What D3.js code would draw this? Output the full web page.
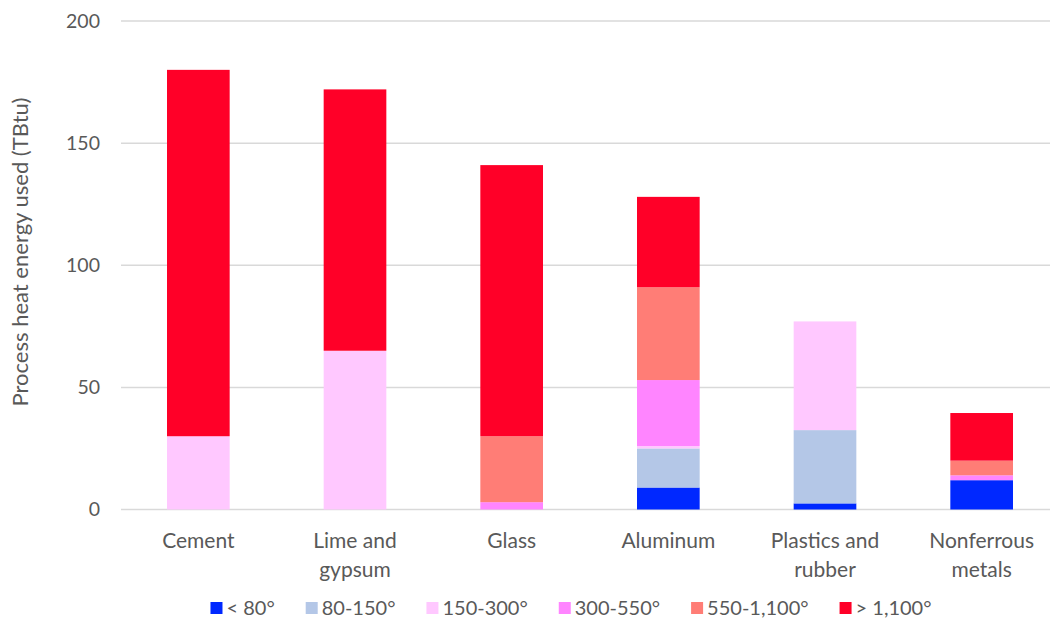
<!DOCTYPE html>
<html>
<head>
<meta charset="utf-8">
<script src="https://cdn.jsdelivr.net/npm/d3@7"></script>
<style>
  html, body { margin: 0; padding: 0; background: #ffffff; }
  svg { display: block; }
  text { font-family: Lato, "Open Sans", sans-serif; }
</style>
</head>
<body>
<svg id="chart" width="1050" height="623"></svg>
<script>
// Industries (x axis), each label split over lines
const categories = ["Cement", "Lime and gypsum", "Glass", "Aluminum", "Plastics and rubber", "Nonferrous metals"];
const categoryLines = [["Cement"], ["Lime and", "gypsum"], ["Glass"], ["Aluminum"], ["Plastics and", "rubber"], ["Nonferrous", "metals"]];

// Temperature bands (stack order, bottom to top)
const bands = ["< 80°", "80-150°", "150-300°", "300-550°", "550-1,100°", "> 1,100°"];
const bandColors = ["#0028ff", "#b4c7e7", "#ffc8ff", "#ff85ff", "#ff7d76", "#ff0028"];

// Process heat energy (TBtu) per band, one value per industry
const below80   = [0,   0,   0,   9,  2.5, 12];
const from80    = [0,   0,   0,  16,  30,   0];
const from150   = [30,  65,  0,   1,  44.5, 0];
const from300   = [0,   0,   3,  27,   0,   2];
const from550   = [0,   0,  27,  38,   0,   6];
const above1100 = [150, 107, 111, 37,  0,  19.5];

const yTicks = [0, 50, 100, 150, 200];
const yTitle = "Process heat energy used (TBtu)";

const seriesValues = [below80, from80, from150, from300, from550, above1100];
const rows = categories.map((c, i) => {
  const r = { category: c };
  bands.forEach((b, j) => { r[b] = seriesValues[j][i]; });
  return r;
});

const textColor = "#595959";
const svg = d3.select("#chart");
const x = d3.scaleBand().domain(categories).range([120, 1060]).paddingInner(0.6).paddingOuter(0.3);
const y = d3.scaleLinear().domain([0, 200]).range([509.5, 21]);

// Gridlines
svg.append("g")
  .selectAll("line")
  .data(yTicks)
  .join("line")
  .attr("x1", 121).attr("x2", 1050)
  .attr("y1", d => y(d)).attr("y2", d => y(d))
  .attr("stroke", "#d9d9d9").attr("stroke-width", 1.5);

// Y axis tick labels
const yAxis = d3.axisLeft(y).tickValues(yTicks).tickSize(0).tickPadding(0);
const yG = svg.append("g").attr("transform", "translate(100,0)").call(yAxis);
yG.select(".domain").remove();
yG.selectAll("text")
  .attr("fill", textColor)
  .style("font-size", "19.5px")
  .style("font-family", "Lato, 'Open Sans', sans-serif");

// Y axis title
svg.append("text")
  .attr("transform", "translate(28,252) rotate(-90)")
  .attr("text-anchor", "middle")
  .attr("fill", textColor)
  .style("font-size", "22px")
  .text(yTitle);

// Stacked bars
const stacked = d3.stack().keys(bands)(rows);
svg.append("g")
  .selectAll("g")
  .data(stacked)
  .join("g")
  .attr("fill", (d, i) => bandColors[i])
  .selectAll("rect")
  .data(d => d)
  .join("rect")
  .attr("x", d => x(d.data.category))
  .attr("width", x.bandwidth())
  .attr("y", d => y(d[1]))
  .attr("height", d => y(d[0]) - y(d[1]));

// Category labels
const catG = svg.append("g");
categories.forEach((c, i) => {
  const t = catG.append("text")
    .attr("x", x(c) + x.bandwidth() / 2)
    .attr("y", 548)
    .attr("text-anchor", "middle")
    .attr("fill", textColor)
    .style("font-size", "21px");
  categoryLines[i].forEach((line, k) => {
    t.append("tspan")
      .attr("x", x(c) + x.bandwidth() / 2)
      .attr("dy", k === 0 ? 0 : 29)
      .text(line);
  });
});

// Legend
const legend = svg.append("g");
const items = legend.selectAll("g").data(bands).join("g");
items.append("rect")
  .attr("width", 12).attr("height", 12)
  .attr("y", -6)
  .attr("fill", (d, i) => bandColors[i]);
items.append("text")
  .attr("x", 16).attr("y", 7)
  .attr("fill", textColor)
  .style("font-size", "20px")
  .text(d => d);
const widths = [];
items.each(function () { widths.push(this.getBBox().width); });
const gap = 31;
const total = d3.sum(widths) + gap * (widths.length - 1);
let cx = 571 - total / 2;
items.attr("transform", (d, i) => {
  const tx = cx;
  cx += widths[i] + gap;
  return `translate(${tx},608)`;
});
</script>
</body>
</html>
